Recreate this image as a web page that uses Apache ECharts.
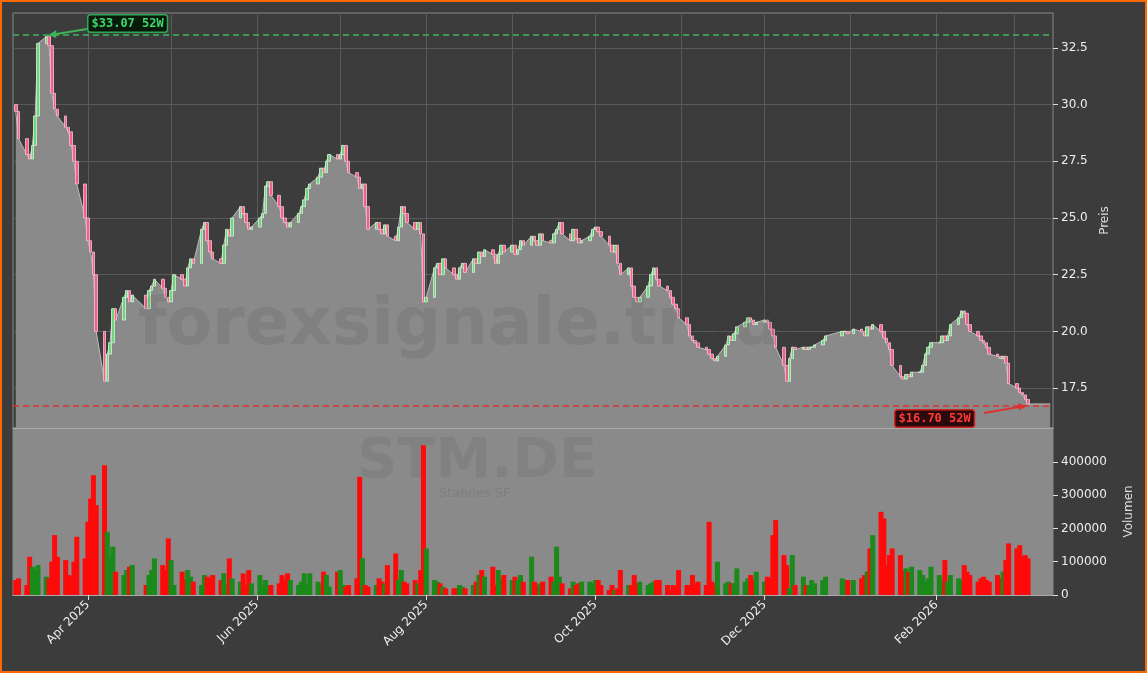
<!DOCTYPE html>
<html><head><meta charset="utf-8">
<script src="https://cdn.jsdelivr.net/npm/echarts@6/dist/echarts.min.js"></script>
<style>
html,body{margin:0;padding:0;background:#ff6a00;}
#c{position:absolute;left:2px;top:2px;width:1143px;height:669px;background:#3c3c3c;border-radius:6px;}
</style></head><body>
<div id="c"></div>
<script>
const startDate = '2025-03-06';
const skipDates = ['2025-04-18','2025-04-21','2025-12-24','2025-12-25','2025-12-26','2026-01-01'];
const closes = [
29.7,28.5,27.8,27.6,28.2,29.5,32.7, 33.0,32.6,30.5,29.8,29.5, 29.0,28.8,28.2,27.5,26.5, 25.0,
24.0,23.5,22.5,20.0,17.8,19.0,19.5,21.0,20.5,21.5,21.8,21.3,21.6,21.0,21.8,22.0,22.3,21.9,21.5,21.3,
21.8,22.5,22.3,22.0,22.8,23.2,23.0,24.5,24.8,24.0,23.5,23.2,23.0,23.8,24.5,24.2,25.0,25.5,25.2,24.8,24.5,24.6,
25.0,25.2,26.4,26.6,26.0,25.5,25.0,24.8,24.6,24.8,25.2,25.5,25.8,26.3,26.5,26.8,27.2,27.0,27.5,27.8,27.6,
27.8,28.2,27.5,27.0,26.8,26.3,26.5,25.5,24.5,24.8,24.5,24.3,24.7,24.2,24.0,24.6,25.5,25.2,24.8,24.5,24.8,24.3,21.3,
21.5,22.8,23.0,22.5,23.2,22.8,22.5,22.3,22.8,23.0,22.6,23.2,23.0,23.5,23.3,23.6,23.4,23.0,23.4,23.8,23.5,
23.8,23.4,23.6,24.0,23.8,24.2,24.0,23.8,24.3,24.0,23.9,24.3,24.5,24.8,24.3,24.0,24.5,24.1,23.9,24.0,24.2,24.5,
24.6,24.4,24.2,23.8,23.5,23.8,23.0,22.5,22.8,22.0,21.5,21.3,21.5,22.0,22.5,22.8,22.3,22.0,21.8,21.5,21.2,21.0,20.6,
20.3,19.8,19.6,19.5,19.3,19.2,19.0,18.8,18.7,18.9,19.4,19.8,19.6,19.9,20.2,20.4,20.6,20.5,20.3,20.4,
20.5,20.4,20.1,19.8,19.3,18.5,17.8,18.8,19.3,19.2,19.3,19.2,19.3,19.3,19.4,19.6,19.8,20.0,20.0,19.9,
20.1,20.0,19.8,20.2,20.1,20.3,20.0,19.7,19.5,19.2,18.5,18.0,17.9,18.1,18.0,18.2,18.2,18.5,19.0,19.3,19.5,
19.5,19.8,19.6,19.8,20.3,20.6,20.9,20.8,20.3,20.0,19.8,19.6,19.5,19.3,19.0,18.9,18.8,18.9,18.6,17.7,
17.5,17.3,17.2,17.0,16.8
];
const volumes = [
45000,50000,30000,115000,85000,75000,90000,55000,50000,100000,180000,115000,105000,60000,55000,100000,175000,110000,
220000,290000,360000,270000,390000,190000,115000,145000,70000,60000,75000,85000,90000,30000,60000,75000,110000,90000,75000,170000,
105000,30000,70000,45000,75000,55000,40000,30000,60000,55000,50000,60000,45000,65000,30000,110000,50000,40000,65000,30000,75000,35000,
60000,30000,45000,30000,30000,35000,60000,45000,65000,45000,30000,40000,65000,30000,65000,40000,30000,70000,60000,25000,70000,
75000,30000,25000,30000,50000,355000,110000,30000,25000,30000,50000,40000,35000,90000,125000,45000,75000,40000,35000,45000,35000,75000,450000,
140000,45000,40000,35000,25000,20000,20000,20000,30000,25000,20000,30000,40000,60000,75000,55000,85000,30000,75000,50000,60000,
45000,55000,45000,60000,40000,115000,40000,30000,35000,40000,55000,40000,145000,55000,35000,20000,40000,30000,35000,40000,40000,35000,
45000,45000,30000,15000,30000,15000,20000,75000,30000,30000,60000,35000,40000,30000,35000,40000,45000,45000,30000,15000,30000,25000,75000,
30000,30000,60000,35000,40000,30000,220000,40000,30000,100000,35000,40000,35000,35000,80000,40000,50000,60000,45000,70000,
40000,55000,50000,180000,225000,120000,90000,20000,120000,30000,55000,30000,30000,45000,35000,45000,55000,50000,45000,45000,
45000,50000,60000,70000,140000,180000,250000,230000,90000,120000,140000,120000,75000,80000,70000,85000,75000,60000,40000,50000,85000,
60000,45000,105000,40000,60000,50000,45000,90000,70000,60000,40000,50000,55000,45000,40000,60000,50000,70000,105000,155000,
140000,150000,115000,120000,110000
];
const priceTicks = [17.5,20,22.5,25,27.5,30,32.5];
const volTicks = [0,100000,200000,300000,400000];
const monthTicks = ['2025-03-01','2025-04-01','2025-05-01','2025-06-01','2025-07-01','2025-08-01','2025-09-01','2025-10-01','2025-11-01','2025-12-01','2026-01-01','2026-02-01','2026-03-01'];
const labelTicks = ['2025-04-01','2025-06-01','2025-08-01','2025-10-01','2025-12-01','2026-02-01'];
const high52 = 33.07, low52 = 16.70;

const dates = [];
{
  let d = new Date(startDate+'T00:00:00Z');
  while (dates.length < closes.length) {
    const wd = d.getUTCDay();
    const s = d.toISOString().slice(0,10);
    if (wd !== 0 && wd !== 6 && skipDates.indexOf(s) < 0) dates.push(s);
    d = new Date(d.getTime()+86400000);
  }
}
const ts = s => Date.parse(s+'T00:00:00Z');
const candles = closes.map((c,i)=>{
  const o = i===0 ? c+0.3 : closes[i-1];
  return [ts(dates[i]), o, c, Math.min(o,c), Math.max(o,c)];
});
const volData = volumes.slice(0,closes.length).map((v,i)=>({
  value:[ts(dates[i]), v],
  itemStyle:{color: candles[i][2] >= candles[i][1] ? '#1a8a1a' : '#ff0a0a'}
}));
const lastT = ts(dates[dates.length-1]);
const areaData = candles.map(c=>[c[0], c[2]]).concat([[lastT+8*86400000, closes[closes.length-1]]]);
const xMin = ts('2025-03-05'), xMax = ts('2026-03-15');
const monthT = monthTicks.map(ts), labelT = labelTicks.map(ts);
const MN = ['Jan','Feb','Mar','Apr','May','Jun','Jul','Aug','Sep','Oct','Nov','Dec'];

const chart = echarts.init(document.getElementById('c'));
const xCommon = {type:'value', min:xMin, max:xMax, axisLine:{lineStyle:{color:'#aaa'}}};
chart.setOption({
  animation:false,
  backgroundColor:'#3c3c3c',
  grid:[
    {left:11,top:11,right:92,height:415,show:true,backgroundColor:'#3c3c3c',borderColor:'#888'},
    {left:11,top:426,right:92,height:167,show:true,backgroundColor:'#8a8a8a',borderColor:'#888'}
  ],
  xAxis:[
    Object.assign({gridIndex:0, axisLabel:{show:true,customValues:monthT,color:'transparent'}, axisTick:{show:false,customValues:monthT},
      splitLine:{show:true,lineStyle:{color:'#5a5a5a'}}}, xCommon),
    Object.assign({gridIndex:1, splitLine:{show:false},
      axisTick:{show:true,customValues:labelT,lineStyle:{color:'#ddd'}},
      axisLabel:{customValues:labelT,rotate:45,color:'#eee',fontSize:12,fontFamily:'DejaVu Sans',
        formatter:v=>{const d=new Date(v);return MN[d.getUTCMonth()]+' '+d.getUTCFullYear();}}}, xCommon)
  ],
  yAxis:[
    {gridIndex:0,position:'right',min:15.74,max:34.04,name:'Preis',nameLocation:'middle',nameGap:40,nameRotate:90,
     nameTextStyle:{color:'#ddd',fontSize:12,fontFamily:'DejaVu Sans'},
     axisLine:{show:false},axisTick:{show:true,customValues:priceTicks,lineStyle:{color:'#ddd'}},
     axisLabel:{customValues:priceTicks,color:'#eee',fontSize:12,fontFamily:'DejaVu Sans',formatter:v=>v.toFixed(1)},
     splitLine:{show:true,lineStyle:{color:'#5a5a5a'}}},
    {gridIndex:1,position:'right',min:0,max:502000,name:'Volumen',nameLocation:'middle',nameGap:70,nameRotate:90,
     nameTextStyle:{color:'#ddd',fontSize:12,fontFamily:'DejaVu Sans'},
     axisLine:{show:false},axisTick:{show:true,customValues:volTicks,lineStyle:{color:'#ddd'}},
     axisLabel:{customValues:volTicks,color:'#eee',fontSize:12,fontFamily:'DejaVu Sans',formatter:v=>String(Math.round(v))},
     splitLine:{show:false}}
  ],
  series:[
    {type:'line',xAxisIndex:0,yAxisIndex:0,data:areaData,symbol:'none',
     lineStyle:{color:'#bbb',width:1},areaStyle:{color:'#8a8a8a',opacity:1,origin:'start'},z:1,
     markLine:{symbol:'none',silent:true,label:{show:false},data:[
       {yAxis:high52,lineStyle:{color:'#3cb55a',type:[6,4],width:1.5}},
       {yAxis:low52,lineStyle:{color:'#e03030',type:[6,4],width:1.5}}]}},
    {type:'candlestick',xAxisIndex:0,yAxisIndex:0,data:candles,barWidth:3,
     itemStyle:{color:'#6ed67a',color0:'#f0628a',borderColor:'#d8f0d8',borderColor0:'#f7c0d0',borderWidth:0.8},z:3},
    {type:'bar',xAxisIndex:1,yAxisIndex:1,data:volData,barWidth:5}
  ]
});
const peakIdx = closes.indexOf(Math.max.apply(null,closes));
const pHigh = chart.convertToPixel({xAxisIndex:0,yAxisIndex:0},[candles[peakIdx][0],high52]);
const pLow = chart.convertToPixel({xAxisIndex:0,yAxisIndex:0},[lastT,low52]);
chart.setOption({graphic:[
  {type:'text',left:136,top:292,silent:true,z:150,style:{text:'forexsignale.trade',fill:'rgba(60,60,60,0.12)',font:'bold 66px DejaVu Sans'}},
  {type:'text',left:355,top:432,silent:true,z:150,style:{text:'STM.DE',fill:'rgba(60,60,60,0.1)',font:'bold 56px DejaVu Sans'}},
  {type:'text',left:437,top:485,silent:true,z:150,style:{text:'Stabiles SF',fill:'rgba(60,60,60,0.15)',font:'13px DejaVu Sans'}},
  {type:'text',left:85,top:12,z:200,style:{text:'$33.07 52W',fill:'#3cd870',font:'bold 12px DejaVu Sans Mono',
    backgroundColor:'#0a1a0a',borderColor:'#2fa855',borderWidth:1.5,padding:[2,3],borderRadius:2}},
  {type:'line',z:200,shape:{x1:85,y1:27,x2:pHigh[0]+4,y2:pHigh[1]},style:{stroke:'#3cb55a',lineWidth:1.8}},
  {type:'polygon',z:200,shape:{points:[[pHigh[0]+2,pHigh[1]],[pHigh[0]+10,pHigh[1]-5],[pHigh[0]+10,pHigh[1]+3]]},style:{fill:'#3cb55a'}},
  {type:'text',left:892,top:407,z:200,style:{text:'$16.70 52W',fill:'#ff3a3a',font:'bold 12px DejaVu Sans Mono',
    backgroundColor:'#2a0a0a',borderColor:'#d02020',borderWidth:1.5,padding:[2,3],borderRadius:2}},
  {type:'line',z:200,shape:{x1:982,y1:411,x2:pLow[0]-4,y2:pLow[1]},style:{stroke:'#e03030',lineWidth:1.8}},
  {type:'polygon',z:200,shape:{points:[[pLow[0]-1,pLow[1]],[pLow[0]-10,pLow[1]-3],[pLow[0]-9,pLow[1]+4]]},style:{fill:'#e03030'}}
]});
</script></body></html>
